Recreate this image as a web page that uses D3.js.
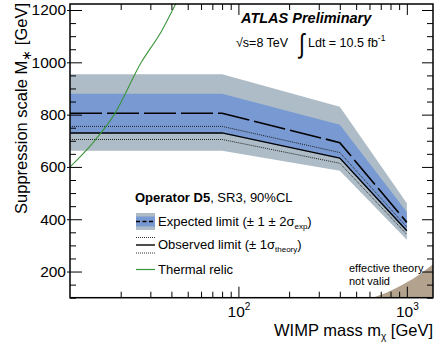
<!DOCTYPE html>
<html>
<head>
<meta charset="utf-8">
<script src="https://cdn.jsdelivr.net/npm/d3@7"></script>
<style>
  body { margin: 0; background: #fff; }
  svg { font-family: "Liberation Sans", Arial, sans-serif; }
</style>
</head>
<body>
<svg width="440" height="355"></svg>
<script>
// Limit on the suppression scale vs WIMP mass, operator D5

// WIMP masses where the limits were computed [GeV]
var massPts = [10, 80, 400, 1000];
// Expected limit and its +-1 / +-2 sigma bands [GeV]
var expected = [805, 805, 693, 388];
var exp1Up = [880, 880, 761, 428];
var exp1Dn = [728, 728, 632, 352];
var exp2Up = [954, 954, 830, 461];
var exp2Dn = [662, 662, 585, 322];
// Observed limit and theory uncertainty
var observed = [730, 730, 634, 356];
var obsUp = [755, 755, 655, 370];
var obsDn = [705, 705, 614, 342];
// Thermal relic curve
var relicMass = [10, 14, 18.3, 26.5, 35, 42.5];
var relicM = [600, 700, 800, 1000, 1120, 1225];
// Edge of the region where the effective theory is not valid
var effMass = [628, 700, 800, 900, 1000, 1200, 1430];
var effM = [100, 111, 127, 143, 159, 191, 228];
// Tick values
var yMajor = [200, 400, 600, 800, 1000, 1200];
var xMajor = [100, 1000];

var svg = d3.select("svg"),
    margin = {top: 4, right: 7, bottom: 57.3, left: 70},
    width = +svg.attr("width") - margin.left - margin.right,
    height = +svg.attr("height") - margin.top - margin.bottom;

var x = d3.scaleLog().domain([10, 1430]).range([0, width]),
    y = d3.scaleLinear().domain([100, 1223]).range([height, 0]);

var g = svg.append("g")
    .attr("transform", "translate(" + margin.left + "," + margin.top + ")");

g.append("clipPath").attr("id", "plot")
  .append("rect").attr("width", width).attr("height", height);

var plot = g.append("g").attr("clip-path", "url(#plot)");

// band helper
function band(lo, hi) {
  return d3.area()
    .x(function(d, i) { return x(massPts[i]); })
    .y0(function(d, i) { return y(lo[i]); })
    .y1(function(d, i) { return y(hi[i]); })(massPts);
}
function curve(xs, ys, c) {
  return d3.line()
    .curve(c || d3.curveLinear)
    .x(function(d, i) { return x(xs[i]); })
    .y(function(d, i) { return y(ys[i]); })(xs);
}

var grey = "#adbcc6", blue = "#7899d2";

plot.append("path").attr("d", band(exp2Dn, exp2Up)).attr("fill", grey);
plot.append("path").attr("d", band(exp1Dn, exp1Up)).attr("fill", blue);

// effective theory not valid region
var effArea = d3.area()
  .curve(d3.curveMonotoneX)
  .x(function(d, i) { return x(effMass[i]); })
  .y0(height)
  .y1(function(d, i) { return y(effM[i]); });
plot.append("path").attr("d", effArea(effMass)).attr("fill", "#b3a38e");

plot.append("path").attr("d", curve(massPts, expected))
  .attr("fill", "none").attr("stroke", "#000").attr("stroke-width", 1.6)
  .attr("stroke-dasharray", "32,5");
plot.append("path").attr("d", curve(massPts, observed))
  .attr("fill", "none").attr("stroke", "#000").attr("stroke-width", 1.4);
[obsUp, obsDn].forEach(function(s) {
  plot.append("path").attr("d", curve(massPts, s))
    .attr("fill", "none").attr("stroke", "#222").attr("stroke-width", 1)
    .attr("stroke-dasharray", "1,1");
});
plot.append("path").attr("d", curve(relicMass, relicM, d3.curveMonotoneX))
  .attr("fill", "none").attr("stroke", "#3a963a").attr("stroke-width", 1.1);

// Axes: ticks point inside the frame
var xMinor = [];
[10, 100, 1000].forEach(function(dec) {
  for (var k = 2; k <= 9; k++) if (dec * k < 1430) xMinor.push(dec * k);
});
var yMinor = d3.range(150, 1223, 50).filter(function(v) { return v % 200 !== 0; });
yMinor.unshift(100);

function tickAxis(axis, vals, size) {
  return axis.tickValues(vals).tickSize(-size).tickFormat("");
}

// bottom
g.append("g").attr("transform", "translate(0," + height + ")")
  .call(tickAxis(d3.axisBottom(x), xMinor, 6));
var xb = g.append("g").attr("transform", "translate(0," + height + ")")
  .call(d3.axisBottom(x).tickValues(xMajor).tickSize(-11).tickPadding(0)
    .tickFormat(function() { return ""; }));
xb.selectAll(".tick text").each(function(d) {
  var t = d3.select(this).attr("y", 19).attr("dy", null)
    .attr("font-size", 15.5).attr("fill", "#000");
  t.append("tspan").text("10");
  t.append("tspan").attr("dy", -7).attr("font-size", 10).text(Math.round(Math.log10(d)));
});
// top
g.append("g").call(tickAxis(d3.axisTop(x), xMinor, 6));
g.append("g").call(tickAxis(d3.axisTop(x), xMajor, 11));
// left
g.append("g").call(tickAxis(d3.axisLeft(y), yMinor, 6));
var yl = g.append("g")
  .call(d3.axisLeft(y).tickValues(yMajor).tickSize(-12).tickPadding(4)
    .tickFormat(d3.format("d")));
yl.selectAll(".tick line").attr("x1", -3);
yl.selectAll(".tick text").attr("font-size", 15.5).attr("fill", "#000");
// right
g.append("g").attr("transform", "translate(" + width + ",0)")
  .call(tickAxis(d3.axisRight(y), yMinor, 6));
g.append("g").attr("transform", "translate(" + width + ",0)")
  .call(tickAxis(d3.axisRight(y), yMajor, 11));

g.selectAll(".domain").remove();
g.selectAll(".tick line").attr("stroke", "#000").attr("stroke-width", 1);

g.append("rect").attr("width", width).attr("height", height)
  .attr("fill", "none").attr("stroke", "#000").attr("stroke-width", 1.5);

// Axis titles
var xt = svg.append("text").attr("x", 433).attr("y", 336)
  .attr("text-anchor", "end").attr("font-size", 16.5);
xt.append("tspan").text("WIMP mass m");
xt.append("tspan").attr("dy", 4).attr("font-size", 10).text("χ");
xt.append("tspan").attr("dy", -4).text(" [GeV]");

var yt = svg.append("text").attr("transform", "translate(27,3) rotate(-90)")
  .attr("text-anchor", "end").attr("font-size", 16.5);
yt.append("tspan").text("Suppression scale M");
yt.append("tspan").attr("dy", 4).attr("font-size", 13).text("∗");
yt.append("tspan").attr("dy", -4).text(" [GeV]");

// ATLAS label
svg.append("text").attr("x", 241).attr("y", 23).attr("font-size", 14.5)
  .attr("font-weight", "bold").attr("font-style", "italic").text("ATLAS Preliminary");
svg.append("text").attr("x", 236).attr("y", 47).attr("font-size", 12.5).text("√s=8 TeV");
svg.append("text").attr("transform", "translate(299,53) scale(1,1.3)")
  .attr("font-size", 21).text("∫");
var lumi = svg.append("text").attr("x", 308).attr("y", 47).attr("font-size", 12.5);
lumi.append("tspan").text("Ldt = 10.5 fb");
lumi.append("tspan").attr("dy", -6).attr("font-size", 8.5).text("-1");

// Legend
var lg = svg.append("g").attr("font-size", 13);
var head = lg.append("text").attr("x", 135).attr("y", 202);
head.append("tspan").attr("font-weight", "bold").text("Operator D5");
head.append("tspan").text(", SR3, 90%CL");

lg.append("rect").attr("x", 136).attr("y", 213).attr("width", 19).attr("height", 17).attr("fill", grey);
lg.append("rect").attr("x", 136).attr("y", 216.5).attr("width", 19).attr("height", 10).attr("fill", blue);
lg.append("line").attr("x1", 136).attr("x2", 155).attr("y1", 221.5).attr("y2", 221.5)
  .attr("stroke", "#000").attr("stroke-width", 1.6).attr("stroke-dasharray", "4,2.5");
var e = lg.append("text").attr("x", 158).attr("y", 226);
e.append("tspan").text("Expected limit (± 1 ± 2σ");
e.append("tspan").attr("dy", 3).attr("font-size", 8).text("exp");
e.append("tspan").attr("dy", -3).text(")");

lg.append("line").attr("x1", 136).attr("x2", 155).attr("y1", 237.5).attr("y2", 237.5)
  .attr("stroke", "#333").attr("stroke-width", 1).attr("stroke-dasharray", "1,1");
lg.append("line").attr("x1", 136).attr("x2", 155).attr("y1", 245).attr("y2", 245)
  .attr("stroke", "#000").attr("stroke-width", 1.4);
lg.append("line").attr("x1", 136).attr("x2", 155).attr("y1", 253).attr("y2", 253)
  .attr("stroke", "#333").attr("stroke-width", 1).attr("stroke-dasharray", "1,1");
var o = lg.append("text").attr("x", 158).attr("y", 249);
o.append("tspan").text("Observed limit (± 1σ");
o.append("tspan").attr("dy", 3).attr("font-size", 8).text("theory");
o.append("tspan").attr("dy", -3).text(")");

lg.append("line").attr("x1", 136).attr("x2", 155).attr("y1", 269.5).attr("y2", 269.5)
  .attr("stroke", "#3a963a").attr("stroke-width", 1.2);
lg.append("text").attr("x", 158).attr("y", 274).text("Thermal relic");

// effective theory note
svg.append("text").attr("x", 349).attr("y", 272).attr("font-size", 11).text("effective theory");
svg.append("text").attr("x", 349).attr("y", 285).attr("font-size", 11).text("not valid");
</script>
</body>
</html>
